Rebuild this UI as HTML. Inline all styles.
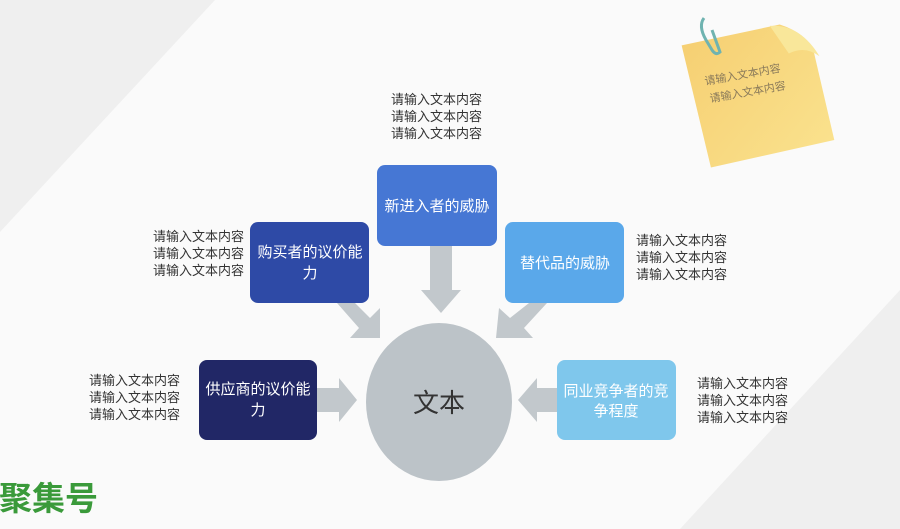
<!DOCTYPE html>
<html><head><meta charset="utf-8"><style>
html,body{margin:0;padding:0;width:900px;height:529px;overflow:hidden;background:#fafafa}
svg{display:block}
text{font-family:"Liberation Sans","Noto Sans CJK SC",sans-serif}
</style></head><body>
<svg width="900" height="529" viewBox="0 0 900 529" xmlns="http://www.w3.org/2000/svg">
<defs>
<linearGradient id="ng" x1="0" y1="0" x2="1" y2="1">
<stop offset="0" stop-color="#f6cf72"/><stop offset="1" stop-color="#fae28e"/>
</linearGradient>
</defs>
<rect width="900" height="529" fill="#fafafa"/>
<polygon points="0,0 215,0 0,232" fill="#efefef"/>
<polygon points="900,290 900,529 680,529" fill="#efefef"/>

<!-- sticky note -->
<g transform="rotate(-8 760 100)">
<path d="M690,35 L790,28 Q815,40 820,60 L828,150 L702,160 Z" fill="url(#ng)"/>
<path d="M780,28 Q810,30 825,65 Q812,52 795,58 Z" fill="#f9e79a"/>
</g>
<path d="M704,18 q-6,8 2,22 l6,10 q4,6 8,2 l-8,-22" fill="none" stroke="#6fb3b0" stroke-width="3"/>
<g transform="rotate(-10 745 80)" fill="#8a7a5a" font-size="11">
<text x="705" y="78" font-family="Liberation Serif,'Noto Serif CJK SC',serif">请输入文本内容</text>
<text x="707" y="96" font-family="Liberation Serif,'Noto Serif CJK SC',serif">请输入文本内容</text>
</g>

<!-- arrows -->
<g fill="#c2c8cc">
<polygon points="430,246 452,246 452,290 461,290 441,313 421,290 430,290"/>
<polygon points="337,303 355,303 370,318 380,308 380,338 350,338 359,328"/>
<polygon points="529,303 547,303 524,328 533,338 496,338 499,308 510,318"/>
<polygon points="317,388 339,388 339,378 357,400 339,422 339,412 317,412"/>
<polygon points="557,388 537,388 537,378 518,400 537,422 537,412 557,412"/>
</g>

<ellipse cx="439" cy="402" rx="73" ry="79" fill="#bcc3c8"/>
<text x="439" y="412" text-anchor="middle" font-size="26" fill="#333" font-family="Liberation Serif,'Noto Serif CJK SC',serif">文本</text>

<rect x="377" y="165" width="120" height="81" rx="8" fill="#4677d4"/>
<rect x="250" y="222" width="119" height="81" rx="8" fill="#2e4aa6"/>
<rect x="505" y="222" width="119" height="81" rx="8" fill="#5aa8ea"/>
<rect x="199" y="360" width="118" height="80" rx="8" fill="#212766"/>
<rect x="557" y="360" width="119" height="80" rx="8" fill="#7fc7ec"/>

<g fill="#fff" font-size="15" text-anchor="middle">
<text x="437" y="211">新进入者的威胁</text>
<text x="310" y="257">购买者的议价能</text>
<text x="310" y="278">力</text>
<text x="565" y="268">替代品的威胁</text>
<text x="258" y="394">供应商的议价能</text>
<text x="258" y="415">力</text>
<text x="616" y="396">同业竞争者的竞</text>
<text x="616" y="416">争程度</text>
</g>

<g fill="#333" font-size="13">
<text x="391" y="104">请输入文本内容</text>
<text x="391" y="121">请输入文本内容</text>
<text x="391" y="138">请输入文本内容</text>
<text x="153" y="241">请输入文本内容</text>
<text x="153" y="258">请输入文本内容</text>
<text x="153" y="275">请输入文本内容</text>
<text x="636" y="245">请输入文本内容</text>
<text x="636" y="262">请输入文本内容</text>
<text x="636" y="279">请输入文本内容</text>
<text x="89" y="385">请输入文本内容</text>
<text x="89" y="402">请输入文本内容</text>
<text x="89" y="419">请输入文本内容</text>
<text x="697" y="388">请输入文本内容</text>
<text x="697" y="405">请输入文本内容</text>
<text x="697" y="422">请输入文本内容</text>
</g>

<text x="-1" y="510" font-size="33" font-weight="bold" fill="#3a9a3a">聚集号</text>
</svg>
</body></html>
